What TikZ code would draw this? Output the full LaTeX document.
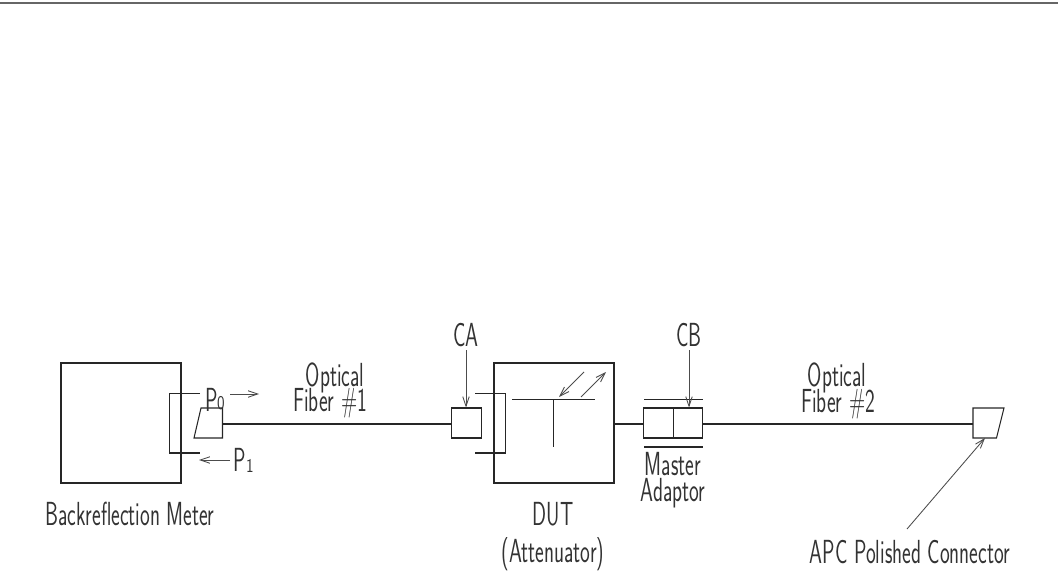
\documentclass[tikz,border=0pt]{standalone}
\usepackage{fontspec}
\usetikzlibrary{arrows.meta}
\tikzset{
    wire/.style={line width=.6pt, black!85},
    pointer/.style={line width=.5pt, black!70},
    unit/.style={draw, line width=.6pt, black!85, inner sep=0pt, minimum width=2.4cm, minimum height=2.4cm},
    plug/.style={draw, line width=.6pt, black!85, inner sep=0pt, minimum width=.59cm, minimum height=.6cm},
    lbl/.style={inner sep=0pt, black!80, xscale=.62, font=\fontsize{19}{22}\sffamily\addfontfeatures{LetterSpace=22}},
    sublbl/.style={inner sep=0pt, black!80, xscale=.8, font=\fontsize{11}{12}\sffamily},
    >={Straight Barb[length=1.9mm,width=1.3mm]}
}
\begin{document}
\begin{tikzpicture}[x=.02cm, y=-.02cm]
    \useasboundingbox (0,0) rectangle (1058,574);

    % Draw top rule
    \coordinate (ruleL) at (0,3);
    \coordinate (ruleR) at (1058,3);
    \draw[line width=.8pt, black!60] (ruleL) -- (ruleR);

    % Draw boxes
    \node[unit] (meter) at (121,423) {};
    \node[unit] (dut) at (554,423) {};
    \node[plug] (ca) at (466.5,423) {};
    \node[plug] (adaptL) at (658.5,423) {};
    \node[plug] (adaptR) at (688,423) {};

    % Draw angled connectors
    \coordinate (plugA) at (222.5,408);
    \coordinate (plugB) at (222.5,424);
    \coordinate (plugC) at (222.5,438);
    \draw[wire] (201,408) -- (plugA) -- (plugC) -- (194,438) -- cycle;
    \coordinate (apcA) at (973,408);
    \coordinate (apcB) at (973,424);
    \coordinate (apcC) at (973,438);
    \coordinate (apcD) at (985,438);
    \draw[wire] (apcA) -- (1004,408) -- (996.5,438) -- (apcC) -- cycle;

    % Draw fibers
    \draw[wire] (plugB) -- (ca.west |- plugB);
    \draw[wire] (dut.east |- plugB) -- (adaptL.west |- plugB);
    \draw[wire] (adaptR.east |- plugB) -- (apcB);

    % Draw port brackets
    \draw[wire] (200,393.5) -- (169.5,393.5) -- (169.5,453) -- (200,453);
    \draw[wire] (475,393.5) -- (505.5,393.5) -- (505.5,453) -- (475,453);

    % Draw the tee inside the DUT
    \coordinate (teeL) at (512,399.5);
    \coordinate (teeR) at (595,399.5);
    \coordinate (teeM) at (553.5,399.5);
    \coordinate (teeD) at (553.5,447);
    \draw[wire] (teeL) -- (teeR);
    \draw[wire] (teeM) -- (teeD);

    % Draw adaptor rails
    \draw[wire] (644,399.5) -- (703,399.5);
    \draw[wire] (644,447) -- (703,447);

    % Draw labels
    \node[lbl] (p0) at (212,400) {P};
    \node[sublbl] (p0sub) at (221,403) {0};
    \node[lbl] (p1) at (240,460) {P};
    \node[sublbl] (p1sub) at (250,466) {1};
    \node[lbl] (calbl) at (466,335) {CA};
    \node[lbl] (cblbl) at (689,335) {CB};
    \node[lbl] (opt1) at (335,378) {Optical};
    \node[lbl] (fib1) at (330,403) {Fiber \#1};
    \node[lbl] (opt2) at (837,378) {Optical};
    \node[lbl] (fib2) at (838,404) {Fiber \#2};
    \node[lbl] (mtrlbl) at (130,514) {Backreflection Meter};
    \node[lbl] (dutlbl) at (553,514) {DUT};
    \node[lbl] (attlbl) at (553,554) {(Attenuator)};
    \node[lbl] (maslbl) at (673,464) {Master};
    \node[lbl] (adplbl) at (673,493) {Adaptor};
    \node[lbl] (apclbl) at (910,552) {APC Polished Connector};

    % Draw arrows
    \coordinate (p0a) at (230,394);
    \coordinate (p0b) at (259,394);
    \coordinate (p1a) at (230,460);
    \coordinate (p1b) at (199,460);
    \draw[pointer, ->] (p0a) -- (p0b);
    \draw[pointer, ->] (p1a) -- (p1b);
    \draw[pointer, ->] (calbl.south |- 0,350) -- (calbl.south |- ca.north);
    \draw[pointer, ->] (cblbl.south |- 0,350) -- (cblbl.south |- ca.north);
    \coordinate (refA) at (584,372);
    \coordinate (refB) at (559,397);
    \coordinate (refC) at (581,397);
    \coordinate (refD) at (606,372);
    \draw[pointer, ->] (refA) -- (refB);
    \draw[pointer, ->] (refC) -- (refD);
    \coordinate (apcTail) at (907,529);
    \draw[pointer, ->] (apcTail) -- (apcD);
\end{tikzpicture}
\end{document}
